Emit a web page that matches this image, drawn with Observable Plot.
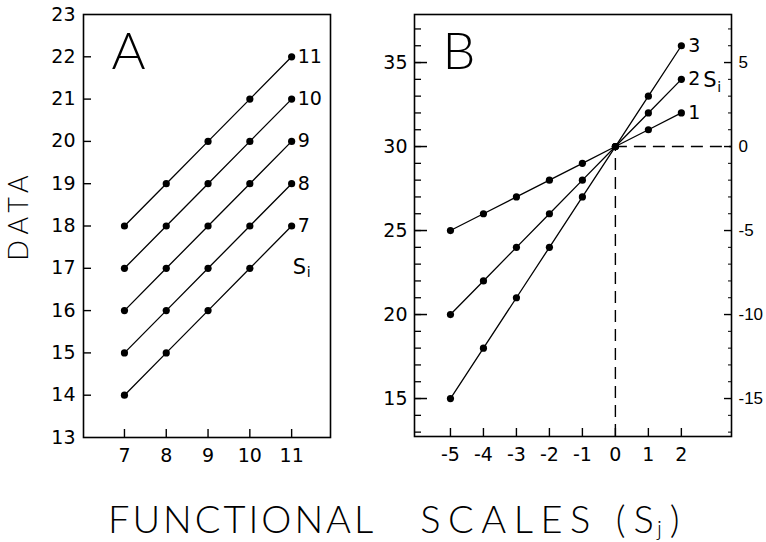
<!DOCTYPE html>
<html><head><meta charset="utf-8">
<script src="https://cdn.jsdelivr.net/npm/d3@7"></script>
<script src="https://cdn.jsdelivr.net/npm/@observablehq/plot@0.6"></script>
<style>
body{margin:0;background:#fff;}
#wrap{position:relative;width:766px;height:542px;overflow:hidden;background:#fff;}
#plotA{position:absolute;left:0;top:0;}
#plotB{position:absolute;left:360px;top:0;}
#ytitle{position:absolute;left:17px;top:215px;transform:translate(-50%,-50%) rotate(-90deg);font:300 27px Lato,"DejaVu Sans",sans-serif;letter-spacing:6px;white-space:nowrap;line-height:1;color:#000;}
#xtitle{position:absolute;left:108px;top:499px;font:300 38px Lato,"DejaVu Sans",sans-serif;letter-spacing:3px;white-space:nowrap;line-height:1;color:#000;}
#xtitle span.gap1{display:inline-block;width:44px;}
#xtitle span.gap2{display:inline-block;width:18px;}
#xtitle span.w2{letter-spacing:7.5px;}
#xtitle span.p{display:inline-block;margin:0 8px;letter-spacing:0;}
#xtitle sub{font-size:22px;vertical-align:-3px;letter-spacing:0;margin-left:3px;}
</style></head>
<body><div id="wrap">
<div id="plotA"></div>
<div id="plotB"></div>
<div id="ytitle">DATA</div>
<div id="xtitle">FUNCTIONAL<span class="gap1"></span><span class="w2">SCALES</span><span class="gap2"></span><span style="letter-spacing:0">(<span class="p">S<sub>j</sub></span>)</span></div>
</div>
<script>
// ---------- Panel A data ----------
const sjA = [7, 8, 9, 10, 11];
const siA = [7, 8, 9, 10, 11];
const dataA7  = [14, 15, 16, 17, 18];
const dataA8  = [15, 16, 17, 18, 19];
const dataA9  = [16, 17, 18, 19, 20];
const dataA10 = [17, 18, 19, 20, 21];
const dataA11 = [18, 19, 20, 21, 22];
const yTicksA = [13, 14, 15, 16, 17, 18, 19, 20, 21, 22, 23];
const xTicksA = [7, 8, 9, 10, 11];

// ---------- Panel B data ----------
const sjB = [-5, -4, -3, -2, -1, 0, 1, 2];
const siB = [1, 2, 3];
const dataB1 = [25, 26, 27, 28, 29, 30, 31, 32];
const dataB2 = [20, 22, 24, 26, 28, 30, 32, 34];
const dataB3 = [15, 18, 21, 24, 27, 30, 33, 36];
const yTicksBLeft = [15, 20, 25, 30, 35];
const yMinorB = [13,14,15,16,17,18,19,20,21,22,23,24,25,26,27,28,29,30,31,32,33,34,35,36,37];
const yTicksBRight = [5, 0, -5, -10, -15];
const rightOffsetB = 30;
const xTicksB = [-5, -4, -3, -2, -1, 0, 1, 2];
const refX = [0];
const refY = [30];

const seriesA = [dataA7, dataA8, dataA9, dataA10, dataA11];
const rowsA = siA.flatMap((si, k) => sjA.map((sj, j) => ({si, sj, y: seriesA[k][j]})));
const lastA = siA.map((si, k) => ({si, sj: sjA[sjA.length - 1], y: seriesA[k][sjA.length - 1]}));

const seriesB = [dataB1, dataB2, dataB3];
const rowsB = siB.flatMap((si, k) => sjB.map((sj, j) => ({si, sj, y: seriesB[k][j]})));
const lastB = siB.map((si, k) => ({si, sj: sjB[sjB.length - 1], y: seriesB[k][sjB.length - 1]}));

const font = "DejaVu Sans, sans-serif";
const styleCommon = {fontFamily: font, fontSize: "19px", color: "black", background: "white", overflow: "visible"};

// ---------- Panel A ----------
const mA = {l: 83, r: 30, t: 14, b: 33}, wA = 360, hA = 470;
const fwA = wA - mA.l - mA.r, fhA = hA - mA.t - mA.b;
const xDomA = [6.02, 11.93], yDomA = [13, 23];
const plotA = Plot.plot({
  width: wA, height: hA,
  marginLeft: mA.l, marginRight: mA.r, marginTop: mA.t, marginBottom: mA.b,
  style: styleCommon,
  x: {domain: xDomA},
  y: {domain: yDomA},
  marks: [
    Plot.frame({stroke: "black", strokeWidth: 1.6}),
    Plot.axisY(yTicksA, {anchor: "left", tickSize: 0, tickPadding: 8, tickFormat: d => String(d), fontSize: 19, label: null}),
    Plot.axisX(xTicksA, {anchor: "bottom", tickSize: 0, tickPadding: 11, tickFormat: d => String(d), fontSize: 19, label: null}),
    Plot.tickY(yTicksA.slice(1, -1), {y: d => d, insetRight: fwA - 8, stroke: "black", strokeWidth: 1.4}),
    Plot.tickX(xTicksA, {x: d => d, insetTop: fhA - 8, stroke: "black", strokeWidth: 1.4}),
    Plot.line(rowsA, {x: "sj", y: "y", z: "si", stroke: "black", strokeWidth: 1.3}),
    Plot.dot(rowsA, {x: "sj", y: "y", r: 3.6, fill: "black", stroke: "none"}),
    Plot.text(lastA, {x: "sj", y: "y", text: d => String(d.si), dx: 6, textAnchor: "start", fontSize: 19}),
    Plot.text(lastA.slice(0, 1), {x: "sj", y: "y", text: () => "S", dx: 1, dy: 41, textAnchor: "start", fontSize: 21}),
    Plot.text(lastA.slice(0, 1), {x: "sj", y: "y", text: () => "i", dx: 15, dy: 47, textAnchor: "start", fontSize: 14}),
    Plot.text(["A"], {frameAnchor: "top-left", dx: 28, dy: 18, lineAnchor: "top", textAnchor: "start", fontSize: 52, fontWeight: 300, fontFamily: "Lato, DejaVu Sans, sans-serif"})
  ]
});
document.getElementById("plotA").appendChild(plotA);

// ---------- Panel B ----------
const mB = {l: 54, r: 35, t: 14, b: 34}, wB = 406, hB = 470;
const fwB = wB - mB.l - mB.r, fhB = hB - mB.t - mB.b;
const xDomB = [-6.09, 3.52], yDomB = [12.74, 37.86];
const plotB = Plot.plot({
  width: wB, height: hB,
  marginLeft: mB.l, marginRight: mB.r, marginTop: mB.t, marginBottom: mB.b,
  style: styleCommon,
  x: {domain: xDomB},
  y: {domain: yDomB},
  marks: [
    Plot.frame({stroke: "black", strokeWidth: 1.6}),
    Plot.axisY(yTicksBLeft, {anchor: "left", tickSize: 0, tickPadding: 7, tickFormat: d => String(d), fontSize: 19, label: null}),
    Plot.axisY(yTicksBRight.map(v => v + rightOffsetB), {anchor: "right", tickSize: 0, tickPadding: 7, tickFormat: d => String(d - rightOffsetB), fontSize: 17, fontFamily: "Liberation Sans, Arial, sans-serif", label: null}),
    Plot.axisX(xTicksB, {anchor: "bottom", tickSize: 0, tickPadding: 11, tickFormat: d => String(d), fontSize: 19, label: null}),
    Plot.tickY(yMinorB, {y: d => d, insetRight: fwB - 7, stroke: "black", strokeWidth: 1.3}),
    Plot.tickY(yTicksBLeft, {y: d => d, insetRight: fwB - 13, stroke: "black", strokeWidth: 1.5}),
    Plot.tickY(yMinorB, {y: d => d, insetLeft: fwB - 3, stroke: "black", strokeWidth: 1}),
    Plot.tickY(yTicksBRight.map(v => v + rightOffsetB), {y: d => d, insetLeft: fwB - 7, stroke: "black", strokeWidth: 1.4}),
    Plot.tickX(xTicksB, {x: d => d, insetTop: fhB - 8, stroke: "black", strokeWidth: 1.4}),
    Plot.ruleX(refX, {x: d => d, y1: yDomB[0], y2: refY[0], stroke: "black", strokeWidth: 1.4, strokeDasharray: "12,7"}),
    Plot.ruleY(refY, {y: d => d, x1: refX[0], x2: xDomB[1], stroke: "black", strokeWidth: 1.4, strokeDasharray: "12,7"}),
    Plot.line(rowsB, {x: "sj", y: "y", z: "si", stroke: "black", strokeWidth: 1.3}),
    Plot.dot(rowsB, {x: "sj", y: "y", r: 3.6, fill: "black", stroke: "none"}),
    Plot.text(lastB, {x: "sj", y: "y", text: d => String(d.si), dx: 7, textAnchor: "start", fontSize: 19}),
    Plot.text(lastB.slice(1, 2), {x: "sj", y: "y", text: () => "S", dx: 22, dy: 1, textAnchor: "start", fontSize: 21}),
    Plot.text(lastB.slice(1, 2), {x: "sj", y: "y", text: () => "i", dx: 36, dy: 8, textAnchor: "start", fontSize: 14}),
    Plot.text(["B"], {frameAnchor: "top-left", dx: 28, dy: 18, lineAnchor: "top", textAnchor: "start", fontSize: 52, fontWeight: 300, fontFamily: "Lato, DejaVu Sans, sans-serif"})
  ]
});
document.getElementById("plotB").appendChild(plotB);
</script>
</body></html>
